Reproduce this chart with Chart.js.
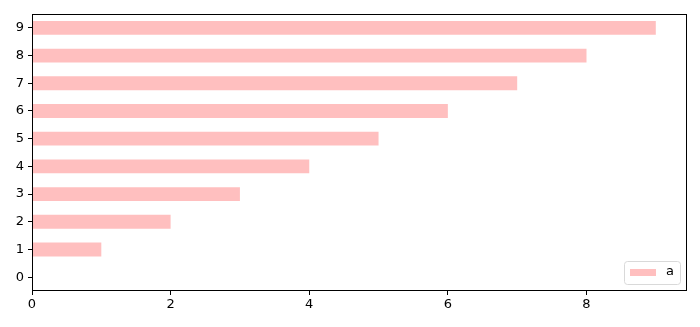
<!DOCTYPE html>
<html><head><meta charset="utf-8">
<script src="https://cdn.jsdelivr.net/npm/chart.js@4"></script>
<style>html,body{margin:0;padding:0;background:#fff}#wrap{width:700px;height:327px}</style>
</head><body><div id="wrap"><canvas id="c" width="700" height="327"></canvas></div>
<script>
const categories = ['0','1','2','3','4','5','6','7','8','9'];
const seriesName = 'a';
const values = [0,1,2,3,4,5,6,7,8,9];
const xTicks = [0,2,4,6,8];

const FONT = {family:'DejaVu Sans', size:13};
const barColor = 'rgba(255,0,0,0.25)';

const framePlugin = {
  id:'frame',
  afterDraw(chart){
    const {ctx, chartArea:a} = chart;
    ctx.save();
    ctx.strokeStyle='#000'; ctx.lineWidth=1;
    ctx.strokeRect(Math.round(a.left)+0.5, Math.round(a.top)+0.5, Math.round(a.right-a.left)-1, Math.round(a.bottom-a.top)-1);
    // legend
    const ds = chart.data.datasets[0];
    const bx=624.5, by=261.5, bw=56, bh=23;
    ctx.beginPath();
    if (ctx.roundRect) ctx.roundRect(bx,by,bw,bh,3); else ctx.rect(bx,by,bw,bh);
    ctx.fillStyle='rgba(255,255,255,0.8)'; ctx.fill();
    ctx.strokeStyle='#d9d9d9'; ctx.stroke();
    ctx.fillStyle=ds.backgroundColor;
    ctx.fillRect(630,269,26,7);
    ctx.fillStyle='#000'; ctx.font='13px "DejaVu Sans"';
    ctx.textBaseline='middle'; ctx.textAlign='left';
    ctx.fillText(ds.label, 666, 272);
    ctx.restore();
  }
};

new Chart(document.getElementById('c'), {
  type:'bar',
  data:{labels:categories, datasets:[{label:seriesName, data:values, backgroundColor:barColor, borderWidth:0, categoryPercentage:1, barPercentage:0.5}]},
  options:{
    indexAxis:'y', responsive:false, animation:false,
    layout:{padding:{left:0,right:13,top:14,bottom:0}},
    plugins:{legend:{display:false}, tooltip:{enabled:false}},
    scales:{
      x:{type:'linear', min:0, max:9.45,
        afterBuildTicks(s){ s.ticks = xTicks.map(v=>({value:v})); },
        afterFit(s){ s.height = 36; },
        grid:{display:true, drawOnChartArea:false, drawTicks:true, tickLength:4, color:'#000'},
        border:{display:false},
        ticks:{color:'#000', font:FONT, padding:2, maxRotation:0}
      },
      y:{type:'category', reverse:true, offset:true,
        afterFit(s){ s.width = 32; },
        grid:{display:true, drawOnChartArea:false, drawTicks:true, tickLength:4, color:'#000', offset:false},
        border:{display:false},
        ticks:{color:'#000', font:FONT, padding:4}
      }
    }
  },
  plugins:[framePlugin]
});
</script></body></html>
